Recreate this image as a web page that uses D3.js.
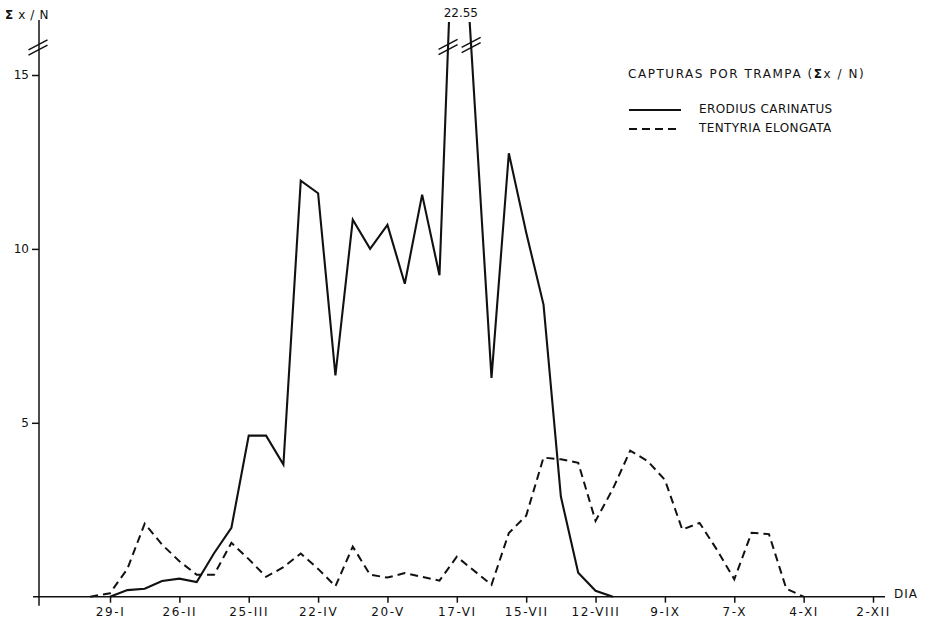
<!DOCTYPE html>
<html>
<head>
<meta charset="utf-8">
<script src="https://cdn.jsdelivr.net/npm/d3@7"></script>
<style>
  body { margin: 0; background: #fff; }
  svg text { font-family: "DejaVu Sans", "Liberation Sans", Arial, sans-serif; fill: #111; }
</style>
</head>
<body>
<svg id="chart" width="931" height="625"></svg>
<script>
// Axis ticks: every four weeks (1980, leap year)
const tickDates = ["1980-01-29", "1980-02-26", "1980-03-25", "1980-04-22", "1980-05-20", "1980-06-17",
                   "1980-07-15", "1980-08-12", "1980-09-09", "1980-10-07", "1980-11-04", "1980-12-02"];
const tickLabels = ["29-I", "26-II", "25-III", "22-IV", "20-V", "17-VI",
                    "15-VII", "12-VIII", "9-IX", "7-X", "4-XI", "2-XII"];
const yTicks = [5, 10, 15];

// Erodius carinatus: captures per trap (Σx / N), weekly samples
const erodiusDates = ["1980-01-29", "1980-02-05", "1980-02-12", "1980-02-19", "1980-02-26", "1980-03-04",
                      "1980-03-11", "1980-03-18", "1980-03-25", "1980-04-01", "1980-04-08", "1980-04-15",
                      "1980-04-22", "1980-04-29", "1980-05-06", "1980-05-13", "1980-05-20", "1980-05-27",
                      "1980-06-03", "1980-06-10", "1980-06-17", "1980-07-01", "1980-07-08", "1980-07-15",
                      "1980-07-22", "1980-07-29", "1980-08-05", "1980-08-12", "1980-08-19"];
const erodiusValues = [0, 0.19, 0.23, 0.45, 0.52, 0.42,
                       1.25, 1.98, 4.63, 4.63, 3.8, 11.96,
                       11.6, 6.36, 10.84, 10.0, 10.69, 9.0,
                       11.56, 9.24, 22.55, 6.29, 12.75, 10.47,
                       8.4, 2.88, 0.69, 0.17, 0];

// Tentyria elongata: captures per trap (Σx / N), weekly samples
const tentyriaDates = ["1980-01-21", "1980-01-29", "1980-02-05", "1980-02-12", "1980-02-19", "1980-02-26",
                       "1980-03-04", "1980-03-11", "1980-03-18", "1980-03-25", "1980-04-01", "1980-04-08",
                       "1980-04-15", "1980-04-22", "1980-04-29", "1980-05-06", "1980-05-13", "1980-05-20",
                       "1980-05-27", "1980-06-03", "1980-06-10", "1980-06-17", "1980-07-01", "1980-07-08",
                       "1980-07-15", "1980-07-22", "1980-07-29", "1980-08-05", "1980-08-12", "1980-08-19",
                       "1980-08-26", "1980-09-02", "1980-09-09", "1980-09-16", "1980-09-23", "1980-09-30",
                       "1980-10-07", "1980-10-14", "1980-10-21", "1980-10-28", "1980-11-04"];
const tentyriaValues = [0, 0.1, 0.8, 2.1, 1.5, 1.02,
                        0.63, 0.63, 1.55, 1.08, 0.57, 0.85,
                        1.24, 0.8, 0.3, 1.44, 0.63, 0.55,
                        0.68, 0.57, 0.46, 1.15, 0.34, 1.83,
                        2.33, 4.0, 3.95, 3.85, 2.18, 3.1,
                        4.2, 3.9, 3.36, 1.93, 2.12, 1.35,
                        0.5, 1.84, 1.8, 0.23, 0];

const legendTitle = "CAPTURAS POR TRAMPA (";
const seriesNames = ["ERODIUS CARINATUS", "TENTYRIA ELONGATA"];

const parse = d3.utcParse("%Y-%m-%d");
const svg = d3.select("#chart");

const x = d3.scaleUtc()
  .domain([parse(tickDates[0]), parse(tickDates[tickDates.length - 1])])
  .range([110, 873]);
const y = d3.scaleLinear().domain([0, 15]).range([596.7, 75]);

const plotTop = 22;      // upper edge where the scale break cuts the curves
const axisX = 39;
const axisY = y(0);

// clip for the curves above the break
svg.append("defs").append("clipPath").attr("id", "plotClip")
  .append("rect").attr("x", 0).attr("y", plotTop).attr("width", 931).attr("height", 625 - plotTop);

// x axis
const xAxis = d3.axisBottom(x)
  .tickValues(tickDates.map(parse))
  .tickFormat((d, i) => tickLabels[i])
  .tickSize(6)
  .tickPadding(5);
const gx = svg.append("g").attr("transform", `translate(0,${axisY})`).call(xAxis);
gx.select(".domain").remove();
gx.selectAll(".tick line").attr("stroke", "#111").attr("stroke-width", 1.5);
gx.selectAll(".tick text").attr("font-size", 12).attr("letter-spacing", 1.6).attr("fill", "#111");
svg.append("line")
  .attr("x1", 33).attr("x2", 885).attr("y1", axisY).attr("y2", axisY)
  .attr("stroke", "#111").attr("stroke-width", 1.5);
svg.append("text").attr("x", 894).attr("y", axisY + 1)
  .attr("font-size", 12).attr("letter-spacing", 1).text("DIA");

// y axis
const yAxis = d3.axisLeft(y).tickValues(yTicks).tickSize(7).tickPadding(3);
const gy = svg.append("g").attr("transform", `translate(${axisX},0)`).call(yAxis);
gy.select(".domain").remove();
gy.selectAll(".tick line").attr("stroke", "#111").attr("stroke-width", 1.5);
gy.selectAll(".tick text").attr("font-size", 12).attr("fill", "#111");
svg.append("line")
  .attr("x1", axisX).attr("x2", axisX).attr("y1", 20).attr("y2", axisY + 9)
  .attr("stroke", "#111").attr("stroke-width", 1.5);
svg.append("text").attr("x", 5).attr("y", 19).attr("font-size", 12).attr("letter-spacing", 0.6)
  .call(t => {
    t.append("tspan").attr("font-weight", "bold").text("Σ");
    t.append("tspan").text(" x / N");
  });

// double-slash break symbol
function breakMark(cx, cy) {
  [-2.6, 2.6].forEach(off => {
    svg.append("line")
      .attr("x1", cx - 9.5).attr("y1", cy + off + 5)
      .attr("x2", cx + 9.5).attr("y2", cy + off - 5)
      .attr("stroke", "#111").attr("stroke-width", 1.5);
  });
}
breakMark(axisX - 1, 47.5);

// curves
const line = d3.line().x(d => x(d[0])).y(d => y(d[1]));
const erodius = erodiusDates.map((d, i) => [parse(d), erodiusValues[i]]);
const tentyria = tentyriaDates.map((d, i) => [parse(d), tentyriaValues[i]]);

const curves = svg.append("g").attr("clip-path", "url(#plotClip)");
curves.append("path").datum(tentyria).attr("d", line)
  .attr("fill", "none").attr("stroke", "#111").attr("stroke-width", 2)
  .attr("stroke-dasharray", "8,5").attr("stroke-linejoin", "miter");
curves.append("path").datum(erodius).attr("d", line)
  .attr("fill", "none").attr("stroke", "#111").attr("stroke-width", 2.1)
  .attr("stroke-linejoin", "miter");

// break marks on the two segments around the off-scale peak, and its value label
const peakIdx = erodiusValues.indexOf(d3.max(erodiusValues));
const breakY = 46;
function crossX(a, b) {
  const ax = x(a[0]), ay = y(a[1]), bx = x(b[0]), by = y(b[1]);
  return ax + (breakY - ay) / (by - ay) * (bx - ax);
}
breakMark(crossX(erodius[peakIdx - 1], erodius[peakIdx]), breakY + 1);
breakMark(crossX(erodius[peakIdx], erodius[peakIdx + 1]), breakY - 1);
svg.append("text")
  .attr("x", x(erodius[peakIdx][0]) + 4).attr("y", 17)
  .attr("text-anchor", "middle").attr("font-size", 12)
  .text(d3.format(".2f")(erodiusValues[peakIdx]));

// legend
const lg = svg.append("g");
lg.append("text").attr("x", 628).attr("y", 78).attr("font-size", 12).attr("letter-spacing", 1.55)
  .call(t => {
    t.append("tspan").text(legendTitle);
    t.append("tspan").attr("font-weight", "bold").text("Σ");
    t.append("tspan").text("x / N)");
  });
const legendRows = [
  { name: seriesNames[0], dash: null, y: 110 },
  { name: seriesNames[1], dash: "8,5", y: 129 }
];
legendRows.forEach(r => {
  lg.append("line").attr("x1", 629).attr("x2", 681).attr("y1", r.y).attr("y2", r.y)
    .attr("stroke", "#111").attr("stroke-width", 1.8)
    .attr("stroke-dasharray", r.dash);
  lg.append("text").attr("x", 699).attr("y", r.y + 3).attr("font-size", 12)
    .attr("letter-spacing", 0.4).text(r.name);
});
</script>
</body>
</html>
